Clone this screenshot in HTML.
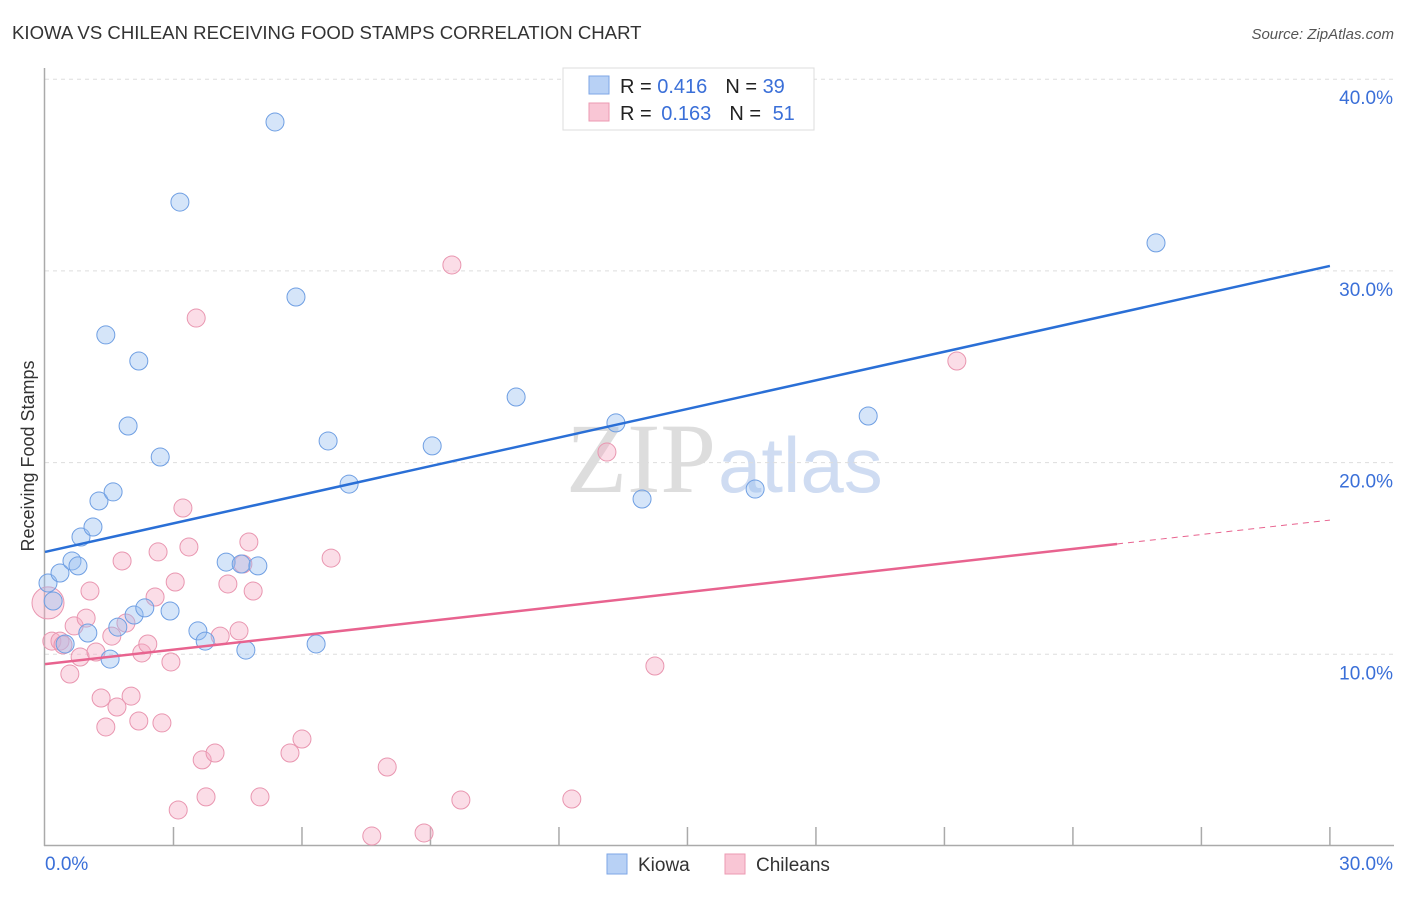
<!DOCTYPE html>
<html><head><meta charset="utf-8"><style>
body{margin:0;background:#fff;font-family:"Liberation Sans",sans-serif;}
svg text{font-family:"Liberation Sans",sans-serif;}
</style></head><body>
<svg id="c" width="1406" height="892">
<text x="12" y="39" font-size="18.6" fill="#333">KIOWA VS CHILEAN RECEIVING FOOD STAMPS CORRELATION CHART</text>
<text x="1394" y="39" font-size="15" fill="#555" font-style="italic" text-anchor="end">Source: ZipAtlas.com</text>
<text transform="translate(34,456) rotate(-90)" font-size="18" fill="#333" text-anchor="middle">Receiving Food Stamps</text>
<text x="716" y="492" font-size="100" fill="#ddd" text-anchor="end" style="font-family:'Liberation Serif',serif">ZIP</text>
<text x="718" y="492" font-size="78" fill="#cfdcf2">atlas</text>
<g id="grid"></g><g id="pts"></g><g id="lines"></g>
<g>
<rect x="563" y="68" width="251" height="62" fill="#fff" stroke="#ddd"/>
<rect x="589" y="76" width="20" height="18" fill="#b8d1f5" stroke="#7ea6e6"/>
<rect x="589" y="103" width="20" height="18" fill="#f9c6d5" stroke="#ec9ab2"/>
<text x="620" y="93" font-size="20" fill="#222">R = <tspan fill="#3a6fd8">0.416</tspan><tspan dx="18">N = </tspan><tspan fill="#3a6fd8">39</tspan></text>
<text x="620" y="120" font-size="20" fill="#222">R = <tspan fill="#3a6fd8" dx="4">0.163</tspan><tspan dx="18">N = </tspan><tspan fill="#3a6fd8" dx="6">51</tspan></text>
</g>
<g>
<rect x="607" y="854" width="20" height="20" fill="#b8d1f5" stroke="#7ea6e6"/>
<text x="638" y="871" font-size="19" fill="#333">Kiowa</text>
<rect x="725" y="854" width="20" height="20" fill="#f9c6d5" stroke="#ec9ab2"/>
<text x="756" y="871" font-size="19" fill="#333">Chileans</text>
</g>
</svg>
<script>
const kiowaPx=[[48,583],[53,601],[60,573],[72,561],[78,566],[65,644],[88,633],[81,537],[93,527],[99,501],[113,492],[110,659],[106,335],[128,426],[118,627],[134,615],[145,608],[139,361],[160,457],[170,611],[180,202],[198,631],[205,641],[226,562],[241,564],[258,566],[246,650],[275,122],[296,297],[316,644],[328,441],[349,484],[432,446],[516,397],[616,423],[642,499],[755,489],[868,416],[1156,243]];
const chilePx=[[48,603],[52,641],[60,641],[63,645],[70,674],[74,626],[80,657],[86,618],[90,591],[96,652],[101,698],[106,727],[112,636],[117,707],[122,561],[126,623],[131,696],[139,721],[142,653],[148,644],[155,597],[158,552],[162,723],[171,662],[175,582],[183,508],[189,547],[196,318],[202,760],[206,797],[215,753],[220,636],[228,584],[239,631],[243,564],[249,542],[253,591],[260,797],[290,753],[302,739],[331,558],[372,836],[387,767],[424,833],[452,265],[461,800],[572,799],[607,452],[655,666],[957,361],[178,810]];
const kiowaX=kiowaPx.map(p=>+((p[0]-45)/42.83).toFixed(2));
const kiowaY=kiowaPx.map(p=>+((846-p[1])/19.17).toFixed(2));
const chileX=chilePx.map(p=>+((p[0]-45)/42.83).toFixed(2));
const chileY=chilePx.map(p=>+((846-p[1])/19.17).toFixed(2));
const yTicks=[10,20,30,40];
const yTickLabels=["10.0%","20.0%","30.0%","40.0%"];
const kiowaTrend=[15.34,30.26];
const chileTrend=[9.49,17.0];
const chileSolidEnd=25.03;
const X=v=>45+v*42.83, Y=v=>846-v*19.17;
const NS="http://www.w3.org/2000/svg";
function mk(t,a,p){const e=document.createElementNS(NS,t);for(const k in a)e.setAttribute(k,a[k]);p.appendChild(e);return e;}
const g=document.getElementById('grid');
yTicks.forEach((t,i)=>{
 const l=mk('line',{x1:45,x2:1394,y1:Y(t),y2:Y(t),stroke:'#ddd','stroke-dasharray':'4,4'},g);
 
 
 const tx=mk('text',{x:1393,y:Y(t)+25,'font-size':19,fill:'#3a6fd8','text-anchor':'end'},g);
 tx.textContent=yTickLabels[i];
 
 
});
mk('line',{x1:44.5,x2:44.5,y1:68,y2:846,stroke:'#aaa','stroke-width':1.5},g);
mk('line',{x1:44,x2:1394,y1:845.5,y2:845.5,stroke:'#aaa','stroke-width':1.5},g);
for(let i=1;i<=10;i++){mk('line',{x1:X(i*3),x2:X(i*3),y1:827,y2:846,stroke:'#aaa','stroke-width':1.5},g);}
let t0=mk('text',{x:45,y:870,'font-size':19,fill:'#3a6fd8'},g);t0.textContent="0.0%";


let t1=mk('text',{x:1393,y:870,'font-size':19,fill:'#3a6fd8','text-anchor':'end'},g);t1.textContent="30.0%";


const pg=document.getElementById('pts');
chileX.forEach((x,i)=>{const c=mk('circle',{cx:X(x),cy:Y(chileY[i]),r:i==0?16:9,fill:'rgba(246,170,195,0.4)',stroke:'#e996b0','stroke-width':1},pg);
 
 });
kiowaX.forEach((x,i)=>{const c=mk('circle',{cx:X(x),cy:Y(kiowaY[i]),r:9,fill:'rgba(150,190,240,0.4)',stroke:'#6f9fe3','stroke-width':1},pg);
 
 });
const lg=document.getElementById('lines');
let b=mk('line',{x1:X(0),y1:Y(kiowaTrend[0]),x2:X(30),y2:Y(kiowaTrend[1]),stroke:'#2a6fd6','stroke-width':2.5},lg);


const cy=v=>chileTrend[0]+(chileTrend[1]-chileTrend[0])*v/30;
let p1=mk('line',{x1:X(0),y1:Y(cy(0)),x2:X(chileSolidEnd),y2:Y(cy(chileSolidEnd)),stroke:'#e8638f','stroke-width':2.5},lg);


let p2=mk('line',{x1:X(chileSolidEnd),y1:Y(cy(chileSolidEnd)),x2:X(30),y2:Y(cy(30)),stroke:'#e8638f','stroke-width':1,'stroke-dasharray':'6,5'},lg);


</script>
</body></html>
